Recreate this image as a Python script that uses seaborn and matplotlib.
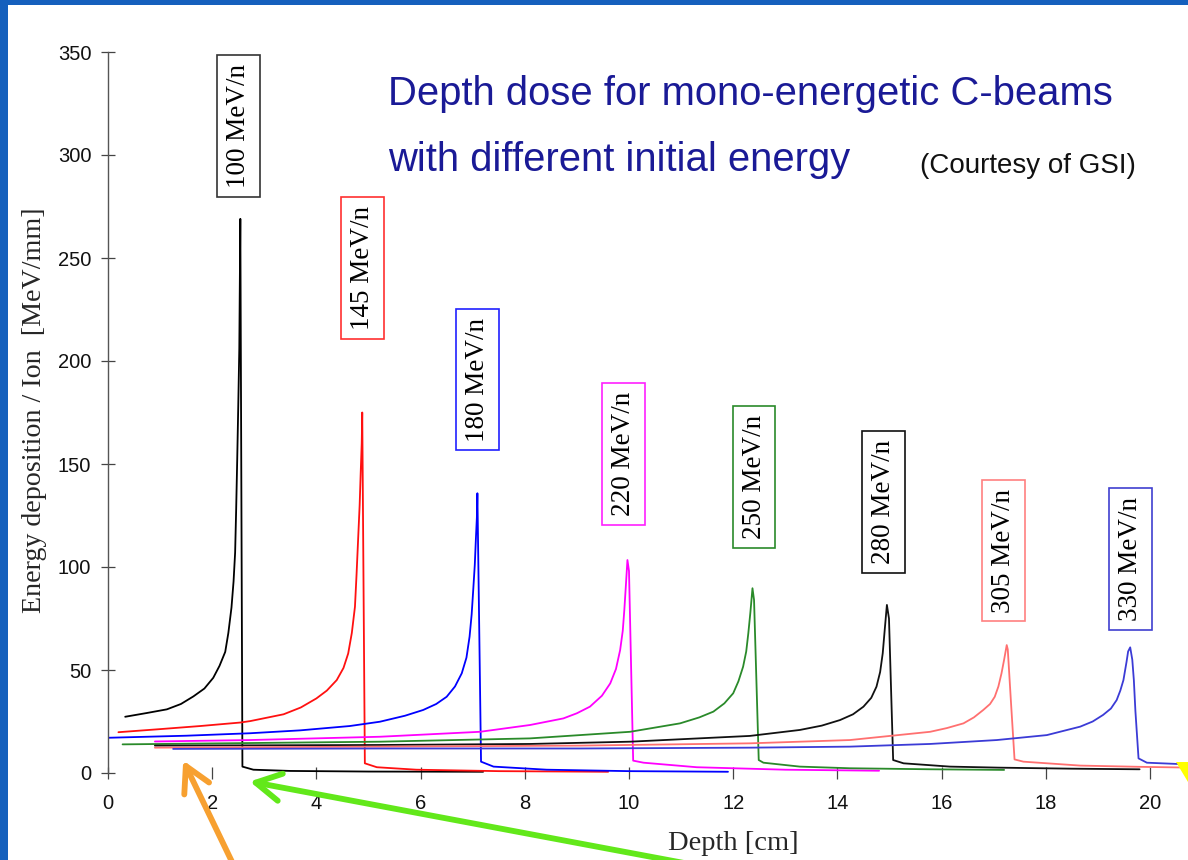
import matplotlib
matplotlib.use("Agg")
import matplotlib.pyplot as plt
from matplotlib.patches import FancyArrowPatch, Polygon, Rectangle
import seaborn as sns
import pandas as pd

# ---------------- data ----------------
energies = ["100 MeV/n", "145 MeV/n", "180 MeV/n", "220 MeV/n",
            "250 MeV/n", "280 MeV/n", "305 MeV/n", "330 MeV/n"]

e100_x = [0.33, 0.74, 1.13, 1.4, 1.64, 1.85, 2.02, 2.14, 2.25, 2.31, 2.37, 2.41, 2.44, 2.46, 2.48,
          2.50, 2.52, 2.54, 2.58, 2.79, 3.5, 5.0, 7.2]
e100_y = [27.3, 29.1, 30.9, 33.5, 37.2, 41.0, 46.2, 52.0, 58.8, 68.0, 80.3, 93.0, 107, 128, 152,
          178, 206, 269, 3.1, 1.6, 1.0, 0.7, 0.6]

e145_x = [0.2, 1.0, 1.77, 2.54, 2.73, 3.37, 3.7, 4.0, 4.2, 4.39, 4.52, 4.61, 4.68, 4.74, 4.77,
          4.80, 4.83, 4.85, 4.87, 4.88, 4.93, 5.16, 5.92, 7.5, 9.6]
e145_y = [19.8, 21.3, 22.8, 24.5, 25.2, 28.5, 31.8, 36.2, 40.0, 45.1, 51.0, 58.0, 68.0, 80.7, 96.0,
          113, 130, 145.5, 160, 175, 4.7, 2.8, 1.6, 0.9, 0.6]

e180_x = [0.0, 1.5, 2.73, 3.69, 4.64, 5.22, 5.7, 6.05, 6.3, 6.5, 6.66, 6.79, 6.88, 6.94, 6.98,
          7.01, 7.04, 7.06, 7.08, 7.09, 7.16, 7.4, 8.42, 10.0, 11.9]
e180_y = [17.1, 18.1, 19.3, 20.7, 22.8, 24.9, 27.8, 30.6, 33.5, 37.0, 42.0, 48.4, 56.0, 66.2, 77.0,
          88.8, 101, 113, 124, 135.8, 5.5, 3.1, 1.6, 0.9, 0.6]

e220_x = [0.9, 2.73, 5.22, 7.14, 8.1, 8.74, 9.0, 9.25, 9.48, 9.64, 9.75, 9.83, 9.88, 9.91, 9.94,
          9.97, 10.0, 10.08, 10.28, 11.3, 13.0, 14.8]
e220_y = [15.3, 16.0, 17.6, 20.0, 23.3, 26.5, 29.0, 32.2, 37.5, 43.5, 50.5, 59.7, 69.0, 79.0, 91.0,
          103.4, 98, 6, 5, 2.8, 1.6, 1.1]

e250_x = [0.28, 5.22, 8.1, 10.02, 10.98, 11.35, 11.62, 11.83, 12.0, 12.1, 12.19, 12.25, 12.29, 12.33,
          12.37, 12.40, 12.49, 12.58, 13.28, 14.24, 15.8, 17.2]
e250_y = [13.9, 15.2, 16.8, 20.0, 24.1, 27.0, 29.8, 33.8, 38.7, 44.5, 51.6, 59.0, 67.8, 78.0,
          89.7, 84, 6.3, 5.0, 3.1, 2.3, 1.8, 1.5]

e280_x = [0.9, 5.22, 8.1, 10.02, 12.32, 13.28, 13.7, 14.05, 14.3, 14.5, 14.65, 14.75, 14.82, 14.87,
          14.91, 14.95, 14.99, 15.07, 15.27, 16.16, 17.1, 18.5, 19.8]
e280_y = [13.3, 13.6, 14.1, 15.2, 18.0, 20.9, 23.0, 25.7, 28.5, 32.2, 36.5, 41.9, 49.0, 58.1,
          70.0, 81.6, 75, 6.3, 4.7, 3.1, 2.6, 2.1, 1.8]

e305_x = [0.9, 5.22, 9.06, 12.32, 14.24, 15.78, 16.1, 16.42, 16.62, 16.8, 16.93, 17.02, 17.09, 17.15,
          17.2, 17.25, 17.27, 17.33, 17.40, 17.57, 18.66, 19.8, 20.8]
e305_y = [12.3, 12.8, 13.3, 14.4, 16.0, 20.0, 21.8, 24.1, 27.0, 30.6, 33.5, 37.0, 42.0, 48.4,
          55.0, 62.1, 60.0, 35.0, 6.6, 5.5, 3.6, 3.0, 2.6]

e330_x = [1.25, 5.22, 9.06, 12.32, 14.24, 15.78, 17.06, 18.02, 18.66, 18.9, 19.1, 19.25, 19.36, 19.43,
          19.49, 19.55, 19.58, 19.62, 19.66, 19.69, 19.72, 19.78, 19.94, 20.51, 20.8]
e330_y = [11.7, 11.9, 11.9, 12.3, 12.8, 14.1, 16.0, 18.4, 22.5, 25.0, 28.2, 31.3, 35.4, 40.0,
          45.1, 54.0, 59.0, 61.0, 55.0, 45.1, 30.0, 7.1, 5.0, 4.4, 4.2]

y_ticks = [0, 50, 100, 150, 200, 250, 300, 350]
x_ticks = [0, 2, 4, 6, 8, 10, 12, 14, 16, 18, 20]

# ---------------- styling / layout ----------------
line_colors = ["#000000", "#ff1010", "#0000ff", "#ff00ff",
               "#2a8a2a", "#111111", "#ff7070", "#3b3bd6"]
box_colors = ["#333333", "#ff3030", "#2020ff", "#ff20ff",
              "#2a8a2a", "#111111", "#ff8080", "#4040d0"]
label_anchor_x = [2.5, 4.89, 7.1, 9.9, 12.4, 14.88, 17.18, 19.62]
label_anchor_y = [314, 245, 191, 155, 143.5, 131.5, 108, 104]

xs = [e100_x, e145_x, e180_x, e220_x, e250_x, e280_x, e305_x, e330_x]
ys = [e100_y, e145_y, e180_y, e220_y, e250_y, e280_y, e305_y, e330_y]

rows = []
for name, xx, yy in zip(energies, xs, ys):
    for i, (a, b) in enumerate(zip(xx, yy)):
        rows.append({"energy": name, "order": i, "depth": a, "dose": b})
df = pd.DataFrame(rows)

sns.set_style("white")
plt.rcParams["font.family"] = ["Liberation Sans", "DejaVu Sans"]

W, H = 1188, 860
fig = plt.figure(figsize=(W / 100, H / 100), dpi=100)
fig.patch.set_facecolor("white")

ax_left, ax_bottom = 108 / W, (H - 773) / H
ax_w, ax_h = (W - 108) / W, (773 - 52) / H
ax = fig.add_axes([ax_left, ax_bottom, ax_w, ax_h])
ax.set_facecolor("white")

sns.lineplot(data=df, x="depth", y="dose", hue="energy",
             palette=dict(zip(energies, line_colors)),
             sort=False, estimator=None, legend=False, lw=1.3, ax=ax)

ax.set_xlim(0, (W - 108) / 52.1)
ax.set_ylim(0, 350)
ax.set_xticks(x_ticks)
ax.set_yticks(y_ticks)
ax.set_xticklabels([str(t) for t in x_ticks])
ax.set_yticklabels([str(t) for t in y_ticks])

for s in ["top", "right", "bottom"]:
    ax.spines[s].set_visible(False)
ax.spines["left"].set_color("#555555")
ax.spines["left"].set_linewidth(1.0)

ax.tick_params(axis="y", direction="inout", length=10, width=0.9, color="#444444",
               labelsize=14.5, pad=7, labelcolor="#111111", left=True)
ax.tick_params(axis="x", direction="inout", length=8, width=0.9, color="#444444",
               labelsize=14.5, pad=11, labelcolor="#111111", bottom=True)

ax.set_xlabel("Depth [cm]", fontsize=20.5, family="Liberation Serif", va="center")
ax.xaxis.set_label_coords(12.0 / ((W - 108) / 52.1), (773 - 843) / (773 - 52))
ax.set_ylabel("Energy deposition / Ion  [MeV/mm]", fontsize=20.2,
              family="Liberation Serif", va="center")
ax.yaxis.set_label_coords((35 - 108) / (W - 108), (773 - 410) / (773 - 52))

for name, lx, ly, bc in zip(energies, label_anchor_x, label_anchor_y, box_colors):
    ax.text(lx, ly, name, rotation=90, ha="center", va="center",
            fontsize=19.5, family="Liberation Serif", color="black",
            bbox=dict(boxstyle="square,pad=0.33", fc="white", ec=bc, lw=1.2))

title_col = "#1a1a96"
fig.text(388 / W, 1 - 105 / H, "Depth dose for mono-energetic C-beams",
         fontsize=28.8, color=title_col, ha="left", va="baseline")
fig.text(388 / W, 1 - 171 / H, "with different initial energy",
         fontsize=28.8, color=title_col, ha="left", va="baseline")
fig.text(920 / W, 1 - 173 / H, "(Courtesy of GSI)",
         fontsize=20, color="#111111", ha="left", va="baseline")

# slide decorations
def fp(px, py):
    return (px / W, 1 - py / H)

fig.add_artist(Rectangle((0, 0), 8 / W, 1, transform=fig.transFigure,
                         color="#1560bd", lw=0))
fig.add_artist(Rectangle((0, 1 - 5 / H), 1, 5 / H, transform=fig.transFigure,
                         color="#1560bd", lw=0))
fig.add_artist(FancyArrowPatch(fp(234, 866), fp(182, 758), transform=fig.transFigure,
                               arrowstyle="->,head_length=1.0,head_width=0.55",
                               mutation_scale=18, lw=4.2, color="#f7a030",
                               capstyle="round", joinstyle="round"))
fig.add_artist(FancyArrowPatch(fp(700, 866), fp(247, 781), transform=fig.transFigure,
                               arrowstyle="->,head_length=1.0,head_width=0.55",
                               mutation_scale=18, lw=4.2, color="#62e81a",
                               capstyle="round", joinstyle="round"))
fig.add_artist(Polygon([fp(1176, 762), fp(1188, 762), fp(1188, 782)],
                       closed=True, transform=fig.transFigure,
                       color="#ffff00", lw=0))

fig.savefig("out.png", dpi=100, facecolor="white")
